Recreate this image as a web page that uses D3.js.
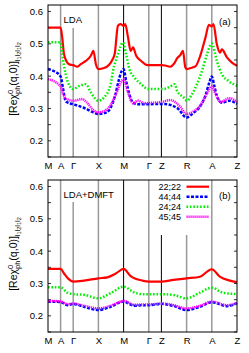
<!DOCTYPE html>
<html>
<head>
<meta charset="utf-8">
<script src="https://cdn.jsdelivr.net/npm/d3@7"></script>
<style>
  body { margin: 0; background: #fff; }
  svg { display: block; font-family: "Liberation Sans", Arial, sans-serif; }
</style>
</head>
<body>
<svg id="chart"></svg>
<script>
// k-path positions and labels
let kLabels = ['M', 'A', 'Γ', 'X', 'M', 'Γ', 'Z', 'R', 'A', 'Z'];
let kPos = [0, 1, 2, 4, 6, 8, 9, 11, 13, 15];
let yTicks = [0.2, 0.3, 0.4, 0.5, 0.6];
let seriesNames = ['22;22', '44;44', '24;24', '45;45'];

// panel (a) LDA
let lda22 = [[0,0.55],[1,0.55],[1.13,0.52],[1.27,0.468],[1.67,0.437],[2,0.434],[2.33,0.429],[2.6,0.437],[3.0,0.447],[3.4,0.463],[3.6,0.478],[3.8,0.437],[4,0.422],[4.45,0.425],[4.85,0.435],[5.1,0.45],[5.3,0.47],[5.55,0.556],[5.76,0.561],[6.0,0.555],[6.13,0.561],[6.35,0.52],[6.56,0.478],[6.75,0.489],[7.0,0.463],[7.4,0.447],[7.8,0.435],[8,0.434],[9,0.434],[9.3,0.433],[9.66,0.429],[10.06,0.442],[10.24,0.455],[10.5,0.465],[10.71,0.478],[10.9,0.427],[11,0.422],[11.3,0.425],[11.7,0.43],[12.1,0.465],[12.5,0.52],[12.77,0.559],[13.0,0.554],[13.13,0.561],[13.4,0.499],[13.66,0.473],[13.8,0.483],[14.2,0.458],[14.6,0.442],[15,0.432]];
let lda44 = [[0,0.422],[0.5,0.415],[1,0.399],[1.2,0.36],[1.35,0.329],[1.48,0.32],[2,0.313],[2.8,0.303],[3.6,0.288],[4,0.283],[4.65,0.288],[5.0,0.305],[5.32,0.339],[5.6,0.385],[5.85,0.416],[6.0,0.422],[6.2,0.385],[6.46,0.344],[6.75,0.318],[7.14,0.313],[7.95,0.313],[8.74,0.314],[9.27,0.314],[9.8,0.31],[10.3,0.3],[11,0.272],[11.5,0.285],[12.1,0.308],[12.5,0.34],[12.8,0.38],[13.0,0.399],[13.2,0.37],[13.4,0.339],[13.8,0.318],[14.4,0.324],[15,0.314]];
let lda24 = [[0,0.505],[1,0.505],[1.13,0.468],[1.4,0.406],[1.8,0.365],[2,0.36],[2.5,0.37],[3.0,0.375],[3.4,0.35],[4,0.324],[4.45,0.334],[4.97,0.375],[5.16,0.416],[5.55,0.468],[5.95,0.504],[6.2,0.468],[6.46,0.422],[6.86,0.396],[7.4,0.375],[7.95,0.36],[9.14,0.36],[9.66,0.367],[10.06,0.375],[10.24,0.355],[10.77,0.334],[11.03,0.324],[11.43,0.344],[11.82,0.375],[12.22,0.416],[12.62,0.468],[13.0,0.501],[13.4,0.447],[13.8,0.406],[14.33,0.385],[15,0.37]];
let lda45 = [[0,0.391],[1,0.368],[1.2,0.345],[1.48,0.329],[2,0.324],[2.7,0.329],[3.07,0.319],[3.6,0.295],[4,0.288],[4.5,0.293],[4.92,0.308],[5.45,0.35],[5.85,0.385],[6.0,0.391],[6.35,0.35],[6.75,0.316],[7.14,0.324],[7.67,0.316],[8,0.317],[9,0.32],[9.7,0.326],[10,0.322],[10.5,0.305],[11,0.283],[11.5,0.29],[12.1,0.31],[12.6,0.345],[13.0,0.368],[13.3,0.345],[13.7,0.32],[14.4,0.332],[15,0.32]];

// panel (b) LDA+DMFT
let dmft22 = [[0,0.345],[1,0.345],[1.27,0.331],[1.6,0.315],[2,0.306],[2.86,0.309],[4,0.316],[4.71,0.319],[5.38,0.331],[6,0.345],[6.56,0.323],[7.5,0.309],[8,0.306],[9,0.306],[9.95,0.311],[11,0.316],[12.06,0.321],[13,0.344],[13.64,0.321],[14.43,0.309],[15,0.304]];
let dmft44 = [[0,0.244],[1,0.243],[1.53,0.233],[2,0.237],[2.86,0.228],[4,0.218],[4.97,0.228],[6,0.244],[6.86,0.231],[7.5,0.233],[8,0.233],[9,0.237],[10,0.23],[11,0.218],[12.06,0.228],[13,0.242],[14.2,0.23],[15,0.239]];
let dmft24 = [[0,0.288],[1,0.288],[1.53,0.272],[2,0.267],[2.86,0.265],[4,0.254],[4.97,0.27],[6,0.29],[6.86,0.272],[7.5,0.267],[8,0.267],[9,0.267],[10,0.264],[11,0.254],[12.06,0.272],[13,0.287],[13.83,0.272],[15,0.267]];
let dmft45 = [[0,0.246],[1,0.245],[1.53,0.236],[2,0.238],[2.86,0.231],[4,0.223],[4.97,0.231],[6,0.246],[6.86,0.234],[7.5,0.235],[8,0.235],[9,0.238],[10,0.233],[11,0.223],[12.06,0.231],[13,0.244],[14.2,0.233],[15,0.24]];

let width = 249;
let height = 353;
let left = 48, right = 237;

let styles = [
    {color: '#ff0000', dash: null},
    {color: '#0000ff', dash: '3,1.5'},
    {color: '#00ee00', dash: '1.6,1.8'},
    {color: '#ff00ff', dash: '1.2,0.8'}
];

let svg = d3.select('#chart').attr('width', width).attr('height', height);

let xScale = d3.scaleLinear().domain([0, 15]).range([left, right]);

let drawPanel = (top, bottom, data, opts) => {
    let yScale = d3.scaleLinear().domain([0.15, 0.62]).range([bottom, top]);
    let g = svg.append('g');

    // vertical lines at k points
    kPos.forEach((k, i) => {
        if (i == 0 || i == kPos.length - 1) return;
        let black = (kLabels[i] == 'M' || kLabels[i] == 'Z');
        let y1 = top;
        if (opts.partial[i] != undefined) y1 = opts.partial[i];
        g.append('line')
            .attr('x1', xScale(k)).attr('x2', xScale(k))
            .attr('y1', y1).attr('y2', bottom)
            .attr('stroke', black ? '#000' : '#999')
            .attr('stroke-width', black ? 1 : 1.5);
    });

    // ticks every 0.05 on both sides
    let minor = d3.range(0.15, 0.621, 0.05);
    minor.forEach(v => {
        g.append('line').attr('x1', left).attr('x2', left + 3)
            .attr('y1', yScale(v)).attr('y2', yScale(v)).attr('stroke', '#000').attr('stroke-width', 0.8);
        g.append('line').attr('x1', right - 3).attr('x2', right)
            .attr('y1', yScale(v)).attr('y2', yScale(v)).attr('stroke', '#000').attr('stroke-width', 0.8);
    });

    let yAxis = d3.axisLeft(yScale).tickValues(yTicks).tickFormat(d3.format('.1f')).tickSize(0).tickPadding(5);
    g.append('g').attr('transform', 'translate(' + left + ',0)').call(yAxis)
        .call(a => a.select('.domain').remove())
        .selectAll('text').attr('font-size', 9.5).attr('font-family', '"Liberation Sans", Arial, sans-serif').attr('fill', '#000');

    let xAxis = d3.axisBottom(xScale).tickValues(kPos).tickFormat((d, i) => kLabels[i]).tickSize(0).tickPadding(5);
    g.append('g').attr('transform', 'translate(0,' + bottom + ')').call(xAxis)
        .call(a => a.select('.domain').remove())
        .selectAll('text').attr('font-size', 9.5).attr('font-family', '"Liberation Sans", Arial, sans-serif').attr('fill', '#000');

    let line = d3.line()
        .x(d => xScale(d[0]))
        .y(d => yScale(d[1]))
        .curve(d3.curveMonotoneX);

    data.forEach((s, i) => {
        g.append('path')
            .attr('d', line(s))
            .attr('fill', 'none')
            .attr('stroke', styles[i].color)
            .attr('stroke-width', i == 0 ? 2.2 : 2.5)
            .attr('stroke-dasharray', styles[i].dash);
    });

    // frame
    g.append('rect').attr('x', left).attr('y', top)
        .attr('width', right - left).attr('height', bottom - top)
        .attr('fill', 'none').attr('stroke', '#000').attr('stroke-width', 1);

    g.append('text').attr('x', 63.5).attr('y', opts.titleY)
        .attr('font-size', 9.5).text(opts.title);
    g.append('text').attr('x', 219).attr('y', opts.tagY)
        .attr('font-size', 9.5).text(opts.tag);

    // y label
    let lbl = g.append('text')
        .attr('transform', 'translate(17,' + ((top + bottom) / 2 - 2) + ') rotate(-90)')
        .attr('text-anchor', 'middle')
        .attr('font-size', 10.5);
    lbl.append('tspan').text('[Reχ');
    lbl.append('tspan').attr('font-size', 7.5).attr('dy', -4.5).text('0');
    lbl.append('tspan').attr('font-size', 7.5).attr('dx', -4.2).attr('dy', 7).text('ph');
    lbl.append('tspan').attr('dy', -2.5).text('(q,0)]');
    ['1', '2', '1', '2'].forEach((n, j) => {
        lbl.append('tspan').attr('font-size', 7.5).attr('dy', j == 0 ? 2.5 : -1.3).text('l');
        lbl.append('tspan').attr('font-size', 5.5).attr('dy', 1.3).text(n);
    });

    return yScale;
};

drawPanel(5, 157, [lda22, lda44, lda24, lda45],
    {title: 'LDA', titleY: 23, tag: '(a)', tagY: 25, partial: {2: 28}});
drawPanel(180, 332, [dmft22, dmft44, dmft24, dmft45],
    {title: 'LDA+DMFT', titleY: 198, tag: '(b)', tagY: 199, partial: {2: 202, 6: 235, 7: 235}});

// legend in panel (b)
seriesNames.forEach((name, i) => {
    let y = 186.7 + i * 10;
    svg.append('text').attr('x', 181).attr('y', y + 3)
        .attr('text-anchor', 'end').attr('font-size', 9).text(name);
    svg.append('line').attr('x1', 186.5).attr('x2', 209)
        .attr('y1', y).attr('y2', y)
        .attr('stroke', styles[i].color)
        .attr('stroke-width', i == 0 ? 2.2 : 2.5)
        .attr('stroke-dasharray', styles[i].dash);
});
</script>
</body>
</html>
